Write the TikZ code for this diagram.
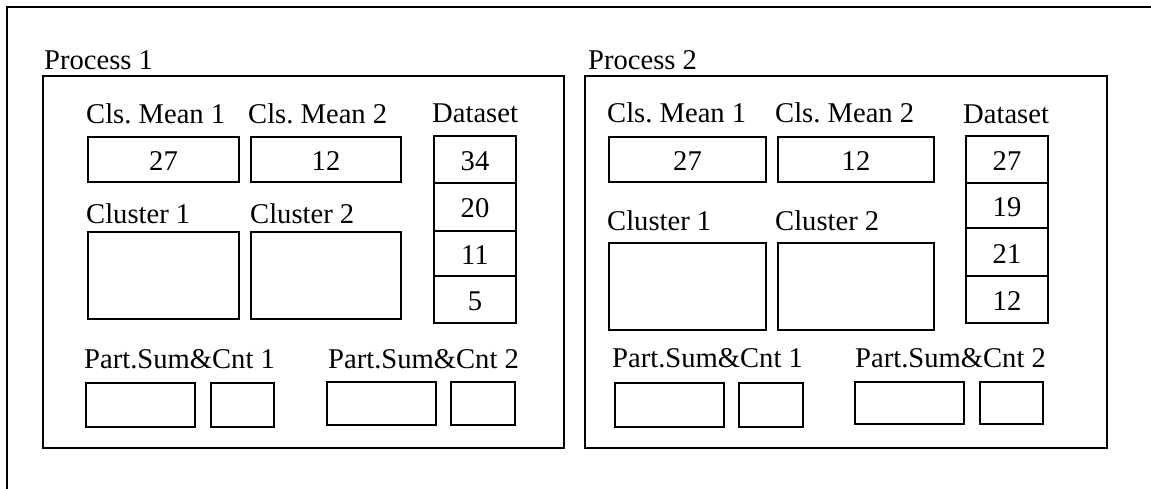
\documentclass[tikz,border=0pt]{standalone}
\usepackage{fontspec}
\setmainfont{Liberation Serif}
\frenchspacing
\begin{document}
\begin{tikzpicture}[x=1pt,y=-1pt,
  lbl/.style={inner sep=0, anchor=base west, font=\fontsize{28.6}{32}\selectfont},
  box/.style={draw, line width=1.3pt, inner sep=0, outer sep=0, anchor=north west,
    font=\fontsize{28.6}{32}\selectfont, text height=22pt, text depth=0pt},
  panel/.style={draw, line width=1.3pt},
  frame/.style={line width=2pt}]
\useasboundingbox (0,0) rectangle (1151,489);
\coordinate (ftr) at (1151,7);
\coordinate (fc) at (7,7);
\coordinate (fbl) at (7,489);
\draw[frame] (ftr) -- (fc) -- (fbl);

% ---------- Process 1 ----------
\coordinate (p1a) at (43,76);
\coordinate (p1b) at (564,448);
\draw[panel] (p1a) rectangle (p1b);
\node[lbl] (p1t) at (44,70) {Process 1};
\node[lbl] (p1lm1) at (86,124) {Cls. Mean 1};
\node[lbl] (p1lm2) at (248,124) {Cls. Mean 2};
\node[lbl] (p1ld) at (432,123) {Dataset};
\node[lbl] (p1lc1) at (86,223) {Cluster 1};
\node[lbl] (p1lc2) at (250,223) {Cluster 2};
\node[lbl] (p1lp1) at (84,368) {Part.Sum\&Cnt 1};
\node[lbl] (p1lp2) at (328,368) {Part.Sum\&Cnt 2};
\node[box, minimum width=151pt, minimum height=45pt] (p1m1) at (88,137) {27};
\node[box, minimum width=150pt, minimum height=45pt] (p1m2) at (251,137) {12};
\node[box, minimum width=151pt, minimum height=87pt] (p1c1) at (88,232) {};
\node[box, minimum width=150pt, minimum height=87pt] (p1c2) at (251,232) {};
\node[box, minimum width=82pt, minimum height=47pt] (p1d1) at (434,136) {34};
\node[box, minimum width=82pt, minimum height=48pt] (p1d2) at (434,183) {20};
\node[box, minimum width=82pt, minimum height=45pt] (p1d3) at (434,231) {11};
\node[box, minimum width=82pt, minimum height=47pt] (p1d4) at (434,276) {5};
\node[box, minimum width=109pt, minimum height=44pt] (p1s1) at (86,383) {};
\node[box, minimum width=63pt, minimum height=44pt] (p1n1) at (211,383) {};
\node[box, minimum width=109pt, minimum height=43pt] (p1s2) at (327,382) {};
\node[box, minimum width=64pt, minimum height=43pt] (p1n2) at (451,382) {};

% ---------- Process 2 ----------
\coordinate (p2a) at (585,76);
\coordinate (p2b) at (1107,448);
\draw[panel] (p2a) rectangle (p2b);
\node[lbl] (p2t) at (588,70) {Process 2};
\node[lbl] (p2lm1) at (607,123) {Cls. Mean 1};
\node[lbl] (p2lm2) at (775,123) {Cls. Mean 2};
\node[lbl] (p2ld) at (963,124) {Dataset};
\node[lbl] (p2lc1) at (607,230) {Cluster 1};
\node[lbl] (p2lc2) at (775,230) {Cluster 2};
\node[lbl] (p2lp1) at (612,367) {Part.Sum\&Cnt 1};
\node[lbl] (p2lp2) at (855,367) {Part.Sum\&Cnt 2};
\node[box, minimum width=157pt, minimum height=45pt] (p2m1) at (609,137) {27};
\node[box, minimum width=156pt, minimum height=45pt] (p2m2) at (778,137) {12};
\node[box, minimum width=157pt, minimum height=87pt] (p2c1) at (609,243) {};
\node[box, minimum width=156pt, minimum height=87pt] (p2c2) at (778,243) {};
\node[box, minimum width=82pt, minimum height=47pt] (p2d1) at (966,136) {27};
\node[box, minimum width=82pt, minimum height=45pt] (p2d2) at (966,183) {19};
\node[box, minimum width=82pt, minimum height=48pt] (p2d3) at (966,228) {21};
\node[box, minimum width=82pt, minimum height=47pt] (p2d4) at (966,276) {12};
\node[box, minimum width=109pt, minimum height=44pt] (p2s1) at (615,383) {};
\node[box, minimum width=64pt, minimum height=44pt] (p2n1) at (739,383) {};
\node[box, minimum width=109pt, minimum height=42pt] (p2s2) at (855,382) {};
\node[box, minimum width=63pt, minimum height=42pt] (p2n2) at (980,382) {};
\end{tikzpicture}
\end{document}
